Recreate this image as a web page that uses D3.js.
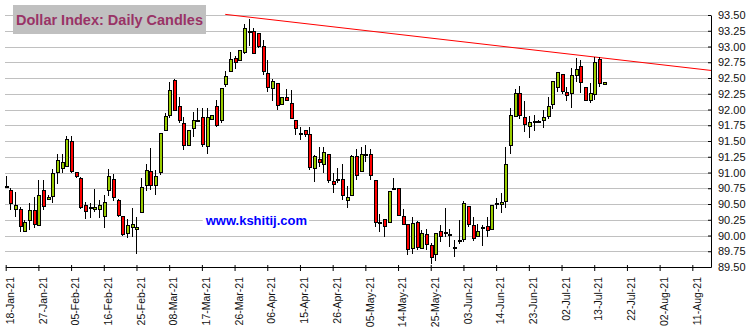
<!DOCTYPE html>
<html>
<head>
<meta charset="utf-8">
<script src="https://cdn.jsdelivr.net/npm/d3@7"></script>
<style>
  body { margin: 0; background: #fff; }
  svg { display: block; font-family: Arial, "Liberation Sans", sans-serif; }
</style>
</head>
<body>
<div id="chart"></div>
<script>
// x axis: one tick every 7 trading days, starting 18-Jan-21 (trading day 0)
const tickLabels = ["18-Jan-21", "27-Jan-21", "05-Feb-21", "16-Feb-21", "25-Feb-21", "08-Mar-21",
  "17-Mar-21", "26-Mar-21", "06-Apr-21", "15-Apr-21", "26-Apr-21", "05-May-21", "14-May-21",
  "25-May-21", "03-Jun-21", "14-Jun-21", "23-Jun-21", "02-Jul-21", "13-Jul-21", "22-Jul-21",
  "02-Aug-21", "11-Aug-21"];
const yTicks = [89.5, 89.75, 90, 90.25, 90.5, 90.75, 91, 91.25, 91.5, 91.75, 92, 92.25,
  92.5, 92.75, 93, 93.25, 93.5];

// daily candles, 18-Jan-21 .. 15-Jul-21 (one entry per trading day)
const openVals = [90.79, 90.71, 90.42, 90.42, 90.06, 90.24, 90.39, 90.16, 90.72, 90.57,
  90.62, 91.00, 91.06, 91.10, 91.49, 91.00, 90.91, 90.48, 90.45, 90.42,
  90.41, 90.30, 90.72, 90.89, 90.56, 90.30, 90.03, 90.12, 90.09, 90.37,
  90.79, 91.02, 90.80, 91.00, 91.67, 91.90, 92.46, 92.04, 91.78, 91.43,
  91.70, 91.84, 91.87, 91.42, 91.84, 92.05, 91.82, 92.40, 92.61, 92.81,
  92.78, 92.91, 93.24, 93.24, 93.21, 93.00, 92.57, 92.34, 92.42, 92.08,
  92.19, 92.09, 91.83, 91.63, 91.66, 91.60, 91.07, 91.20, 91.12, 91.29,
  90.86, 90.90, 90.89, 90.56, 90.64, 91.26, 91.01, 91.30, 91.28, 90.88,
  90.21, 90.25, 90.21, 90.75, 90.75, 90.30, 90.18, 89.80, 90.21, 89.80,
  90.02, 89.84, 89.70, 90.07, 90.05, 90.03, 89.82, 89.93, 89.94, 90.46,
  90.16, 89.99, 90.14, 90.14, 90.09, 90.51, 90.49, 90.54, 91.43, 91.89,
  92.26, 91.88, 91.73, 91.82, 91.82, 91.83, 91.89, 92.08, 92.35, 92.56,
  92.27, 92.26, 92.54, 92.68, 92.35, 92.14, 92.24, 92.80, 92.40];
const highVals = [90.94, 90.76, 90.69, 90.45, 90.25, 90.52, 90.61, 90.88, 90.88, 90.65,
  91.06, 91.29, 91.30, 91.58, 91.58, 91.00, 90.93, 90.53, 90.51, 90.74,
  90.57, 90.64, 91.05, 90.98, 90.58, 90.31, 90.26, 90.43, 90.29, 90.91,
  91.13, 91.39, 91.04, 91.62, 91.95, 92.44, 92.49, 92.20, 91.88, 91.68,
  91.96, 92.02, 92.02, 92.02, 91.92, 92.15, 92.34, 92.61, 92.91, 92.85,
  92.94, 93.36, 93.43, 93.29, 93.22, 93.10, 92.79, 92.48, 92.42, 92.19,
  92.33, 92.31, 91.83, 91.73, 91.66, 91.73, 91.28, 91.41, 91.41, 91.29,
  90.99, 91.07, 91.13, 90.78, 91.28, 91.38, 91.41, 91.44, 91.37, 90.88,
  90.34, 90.25, 90.70, 90.91, 90.75, 90.42, 90.18, 90.30, 90.23, 90.09,
  90.10, 89.88, 90.03, 90.17, 90.43, 90.11, 89.93, 90.25, 90.55, 90.46,
  90.29, 90.18, 90.17, 90.30, 90.48, 90.59, 90.67, 91.41, 92.02, 92.33,
  92.37, 92.14, 91.90, 91.91, 91.83, 92.00, 92.20, 92.46, 92.59, 92.56,
  92.35, 92.66, 92.82, 92.79, 92.35, 92.42, 92.83, 92.84, 92.43];
const lowVals = [90.75, 90.40, 90.29, 90.06, 90.06, 90.09, 90.12, 90.16, 90.41, 90.56,
  90.51, 90.81, 90.99, 91.10, 90.99, 90.91, 90.42, 90.26, 90.27, 90.38,
  90.27, 90.12, 90.62, 90.55, 90.30, 90.00, 89.96, 89.98, 89.70, 90.37,
  90.71, 90.73, 90.64, 90.96, 91.67, 91.86, 91.98, 91.78, 91.36, 91.43,
  91.56, 91.84, 91.41, 91.30, 91.83, 91.72, 91.78, 92.35, 92.59, 92.65,
  92.78, 92.88, 93.01, 92.89, 92.97, 92.55, 92.28, 92.14, 92.00, 92.08,
  92.14, 91.86, 91.60, 91.52, 91.57, 91.04, 90.85, 91.09, 91.00, 90.84,
  90.68, 90.83, 90.56, 90.43, 90.64, 90.88, 91.01, 91.17, 90.88, 90.14,
  90.05, 89.98, 90.21, 90.72, 90.31, 90.18, 89.69, 89.71, 89.77, 89.80,
  89.77, 89.54, 89.60, 89.90, 89.98, 89.82, 89.66, 89.86, 89.89, 90.14,
  89.92, 89.97, 89.83, 89.98, 90.09, 90.42, 90.35, 90.43, 91.30, 91.89,
  91.85, 91.65, 91.54, 91.66, 91.79, 91.71, 91.85, 92.01, 92.27, 92.24,
  92.14, 92.02, 92.44, 92.26, 92.13, 92.10, 92.15, 92.35, 92.40];
const closeVals = [90.79, 90.51, 90.47, 90.14, 90.21, 90.39, 90.18, 90.64, 90.46, 90.61,
  90.98, 91.19, 91.16, 91.53, 91.02, 90.94, 90.45, 90.38, 90.45, 90.45,
  90.48, 90.52, 90.94, 90.60, 90.32, 90.02, 90.16, 90.18, 90.13, 90.76,
  91.03, 90.80, 90.93, 91.62, 91.89, 92.30, 91.98, 91.83, 91.43, 91.67,
  91.83, 91.84, 91.45, 91.87, 91.91, 91.75, 92.34, 92.53, 92.80, 92.74,
  92.94, 93.29, 93.24, 92.89, 93.00, 92.60, 92.35, 92.45, 92.07, 92.19,
  92.14, 91.86, 91.70, 91.63, 91.61, 91.08, 91.25, 91.16, 91.32, 90.88,
  90.81, 90.90, 90.63, 90.61, 91.26, 90.96, 91.29, 91.30, 90.96, 90.21,
  90.21, 90.14, 90.70, 90.75, 90.31, 90.18, 89.77, 90.19, 89.81, 90.03,
  89.86, 89.65, 90.03, 89.98, 90.05, 90.03, 89.82, 89.93, 90.51, 90.18,
  89.95, 90.07, 90.14, 90.08, 90.48, 90.51, 90.53, 91.13, 91.90, 92.26,
  91.90, 91.76, 91.80, 91.82, 91.82, 91.88, 92.05, 92.44, 92.59, 92.29,
  92.22, 92.54, 92.63, 92.43, 92.15, 92.26, 92.75, 92.42, 92.43];

// resistance line: trading-day index and value at each end
const trendDays = [47, 151];
const trendValues = [93.51, 92.62];

const width = 753, height = 334;
const svg = d3.select("#chart").append("svg")
    .attr("width", width)
    .attr("height", height);

const x = d3.scaleLinear().domain([0, 151]).range([5.7, 711]);
const y = d3.scaleLinear().domain([89.5, 93.5]).range([267, 15]);

// horizontal gridlines
svg.append("g")
    .selectAll("line")
    .data(yTicks)
    .enter().append("line")
    .attr("x1", 5)
    .attr("x2", x.range()[1])
    .attr("y1", d => Math.round(y(d)) + 0.5)
    .attr("y2", d => Math.round(y(d)) + 0.5)
    .attr("stroke", "#c0c0c0")
    .attr("stroke-width", 1);

// watermark with white backing
const wm = svg.append("g");
const wmBox = wm.append("rect").attr("fill", "#fff");
const wmText = wm.append("text")
    .attr("x", 205.7)
    .attr("y", 225)
    .attr("font-size", 13)
    .attr("font-weight", "bold")
    .attr("fill", "#0000ff")
    .text("www.kshitij.com");
const bb = wmText.node().getBBox();
wmBox.attr("x", bb.x - 2).attr("y", bb.y).attr("width", bb.width + 4).attr("height", bb.height);

// trend line
svg.append("line")
    .attr("x1", x(trendDays[0]))
    .attr("y1", y(trendValues[0]))
    .attr("x2", x(trendDays[1]))
    .attr("y2", y(trendValues[1]))
    .attr("stroke", "#ff0000")
    .attr("stroke-width", 1);

// candles
const candles = openVals.map((o, i) => ({
    i: i, o: o, h: highVals[i], l: lowVals[i], c: closeVals[i]
}));

const cg = svg.append("g").attr("shape-rendering", "crispEdges");

cg.selectAll(".wick")
    .data(candles)
    .enter().append("line")
    .attr("class", "wick")
    .attr("x1", d => Math.round(x(d.i)) + 0.5)
    .attr("x2", d => Math.round(x(d.i)) + 0.5)
    .attr("y1", d => y(d.h))
    .attr("y2", d => y(d.l))
    .attr("stroke", "#000");

cg.selectAll(".body")
    .data(candles.filter(d => Math.abs(d.o - d.c) >= 0.015))
    .enter().append("rect")
    .attr("class", "body")
    .attr("x", d => Math.round(x(d.i)) - 1)
    .attr("y", d => y(Math.max(d.o, d.c)))
    .attr("width", 3)
    .attr("height", d => Math.max(1, y(Math.min(d.o, d.c)) - y(Math.max(d.o, d.c))))
    .attr("fill", d => d.c > d.o ? "#99cc00" : "#ff0000")
    .attr("stroke", "#000")
    .attr("stroke-width", 1);

cg.selectAll(".doji")
    .data(candles.filter(d => Math.abs(d.o - d.c) < 0.015))
    .enter().append("rect")
    .attr("class", "doji")
    .attr("x", d => Math.round(x(d.i)) - 1.5)
    .attr("y", d => Math.round(y(d.o)) - 0.5)
    .attr("width", 4)
    .attr("height", 2)
    .attr("fill", "#000");

// right value axis
const yAxis = svg.append("g")
    .attr("transform", `translate(${x.range()[1]},0)`)
    .call(d3.axisRight(y)
        .tickValues(yTicks)
        .tickFormat(d3.format(".2f"))
        .tickSizeInner(-3)
        .tickSizeOuter(0)
        .tickPadding(7));
yAxis.select(".domain").attr("stroke", "#000");
yAxis.selectAll("line").attr("stroke", "#000");
yAxis.selectAll("text")
    .attr("x", 7)
    .attr("font-size", 11)
    .attr("font-family", "Arial, 'Liberation Sans', sans-serif")
    .attr("fill", "#111");

// bottom date axis
const xAxis = svg.append("g")
    .attr("transform", `translate(0,${y.range()[0]})`)
    .call(d3.axisBottom(x)
        .tickValues(tickLabels.map((t, i) => i * 7))
        .tickFormat((d, i) => tickLabels[i])
        .tickSizeOuter(0));
xAxis.select(".domain").attr("stroke", "#000");
xAxis.selectAll(".tick line")
    .attr("stroke", "#000")
    .attr("y1", -2)
    .attr("y2", 4);
xAxis.selectAll("text")
    .attr("transform", "rotate(-90)")
    .attr("x", -10)
    .attr("y", 4)
    .attr("dy", "0.35em")
    .style("text-anchor", "end")
    .attr("font-size", 10.5)
    .attr("font-family", "Arial, 'Liberation Sans', sans-serif")
    .attr("fill", "#111");

// title box
svg.append("rect")
    .attr("x", 13)
    .attr("y", 5)
    .attr("width", 193)
    .attr("height", 29)
    .attr("fill", "#c0c0c0");
svg.append("text")
    .attr("x", 16)
    .attr("y", 24.5)
    .attr("font-size", 14.5)
    .attr("font-weight", "bold")
    .attr("fill", "#993366")
    .text("Dollar Index: Daily Candles");
</script>
</body>
</html>
